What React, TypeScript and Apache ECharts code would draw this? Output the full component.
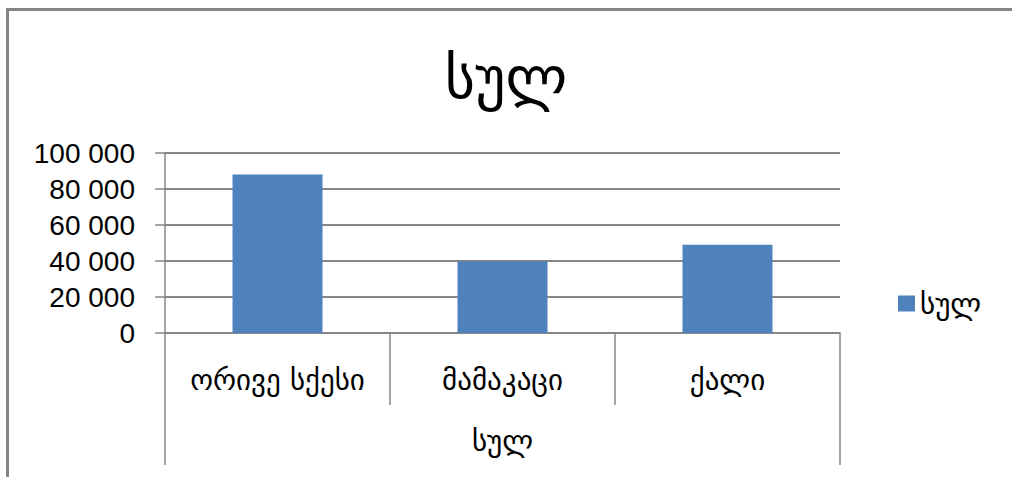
import React, { useEffect, useRef } from "react";
import * as echarts from "echarts";

const categories = ["ორივე სქესი", "მამაკაცი", "ქალი"];
const groupLabel = ["სულ"];
const seriesName = "სულ";
const values = [88000, 39800, 49000];
const titleText = "სულ";

const GEO = "DejaVu Sans, sans-serif";
const GRAY = "#868686";

export default function App() {
  const ref = useRef<HTMLDivElement>(null);
  useEffect(() => {
    if (!ref.current) return;
    const chart = echarts.init(ref.current, null, { renderer: "svg" });
    chart.setOption({
      animation: false,
      backgroundColor: "#ffffff",
      title: {
        text: titleText,
        left: "center",
        top: 44,
        textStyle: { fontFamily: GEO, fontSize: 58, fontWeight: "normal", color: "#000" },
      },
      legend: {
        data: [seriesName],
        left: 893,
        top: 284,
        itemWidth: 17,
        itemHeight: 16,
        itemGap: 6,
        icon: "rect",
        textStyle: { fontFamily: GEO, fontSize: 29, color: "#000" },
      },
      graphic: [
        {
          type: "rect",
          shape: { x: 7.5, y: 9.5, width: 1030, height: 500 },
          style: { fill: "none", stroke: GRAY, lineWidth: 3 },
          silent: true,
        },
      ],
      grid: { left: 165, right: 172, top: 153, bottom: 144, containLabel: false },
      xAxis: [
        {
          type: "category",
          data: categories,
          position: "bottom",
          axisLine: { show: true, lineStyle: { color: GRAY, width: 1.5 } },
          axisTick: { show: true, interval: 0, length: 72, lineStyle: { color: GRAY, width: 1.5 } },
          axisLabel: { interval: 0, margin: 32, fontFamily: GEO, fontSize: 29, color: "#000" },
          splitLine: { show: false },
        },
        {
          type: "category",
          data: groupLabel,
          position: "bottom",
          offset: 72,
          axisLine: { show: false },
          axisTick: { show: true, length: 60, lineStyle: { color: GRAY, width: 1.5 } },
          axisLabel: { margin: 21, fontFamily: GEO, fontSize: 29, color: "#000" },
          splitLine: { show: false },
        },
      ],
      yAxis: {
        type: "value",
        min: 0,
        max: 100000,
        interval: 20000,
        axisLine: { show: true, lineStyle: { color: GRAY, width: 1.5 } },
        axisTick: { show: true, length: 10, lineStyle: { color: GRAY, width: 1.5 } },
        axisLabel: {
          margin: 30,
          fontFamily: "Liberation Sans, Arial, sans-serif",
          fontSize: 28,
          color: "#000",
          formatter: (v: number) => String(v).replace(/\B(?=(\d{3})+(?!\d))/g, " "),
        },
        splitLine: { show: true, lineStyle: { color: GRAY, width: 2 } },
      },
      series: [
        {
          name: seriesName,
          type: "bar",
          data: values,
          xAxisIndex: 0,
          barWidth: "40%",
          itemStyle: { color: "#4F81BD" },
        },
      ],
    });
    return () => chart.dispose();
  }, []);
  return <div ref={ref} style={{ width: 1012, height: 477, position: "absolute", left: 0, top: 0 }} />;
}
